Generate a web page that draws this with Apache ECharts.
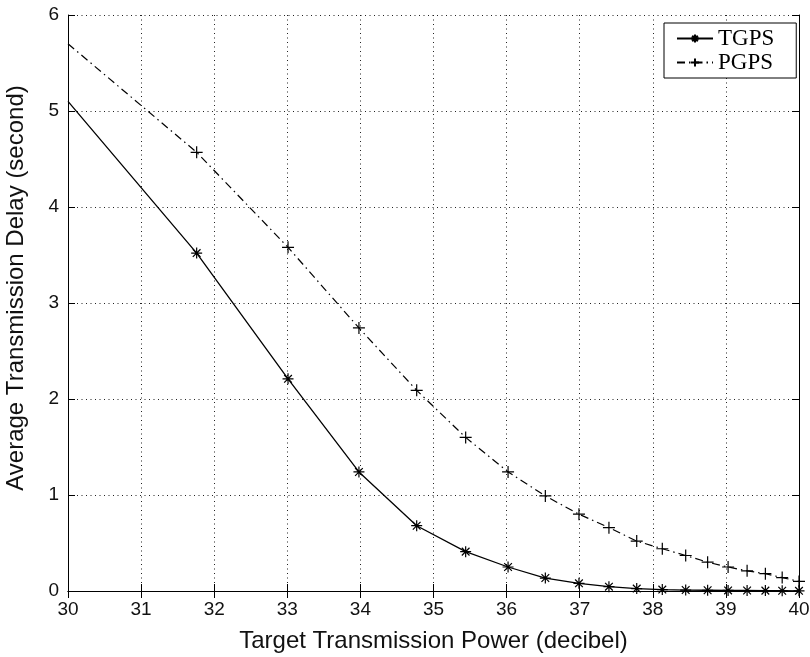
<!DOCTYPE html>
<html>
<head>
<meta charset="utf-8">
<script src="https://cdn.jsdelivr.net/npm/echarts@6/dist/echarts.min.js"></script>
<style>
  html, body { margin: 0; padding: 0; background: #fff; }
  #chart { width: 810px; height: 657px; }
</style>
</head>
<body>
<div id="chart"></div>
<script>
// target transmission power (decibel)
var powerDb = [30, 31.76, 33.01, 33.98, 34.77, 35.44, 36.02, 36.53, 36.99, 37.40,
  37.78, 38.13, 38.45, 38.75, 39.03, 39.29, 39.54, 39.77, 40];
// average transmission delay (second)
var tgpsDelay = [5.10, 3.52, 2.21, 1.24, 0.68, 0.41, 0.25, 0.135, 0.08, 0.045,
  0.025, 0.015, 0.01, 0.008, 0.006, 0.005, 0.004, 0.003, 0.002];
var pgpsDelay = [5.70, 4.57, 3.58, 2.74, 2.09, 1.60, 1.24, 0.99, 0.80, 0.66,
  0.52, 0.44, 0.37, 0.30, 0.25, 0.21, 0.18, 0.14, 0.10];
var seriesNames = ["TGPS", "PGPS"];

var starPath = "path://M0,5L10,5M5,0L5,10M1.5,1.5L8.5,8.5M8.5,1.5L1.5,8.5";
var plusPath = "path://M0,5L10,5M5,0L5,10";

function toData(ys) {
  return ys.map(function (y, i) {
    var item = { value: [powerDb[i], y] };
    if (i === 0) item.symbol = "none"; // no marker on the first point
    return item;
  });
}

var gridLine = { show: true, lineStyle: { color: "#222", type: [1, 3.5], width: 1 } };
var tickIn = { inside: true, length: 7, lineStyle: { color: "#000" } };

var option = {
  animation: false,
  grid: { left: 68, right: 11, top: 15, bottom: 66, outerBoundsMode: "none", containLabel: false },
  legend: {
    orient: "vertical",
    left: 664,
    top: 23,
    padding: [4, 22, 4, 12],
    itemGap: 1,
    itemWidth: 36,
    itemHeight: 10,
    backgroundColor: "#fff",
    borderColor: "#000",
    borderWidth: 1,
    borderRadius: 0,
    textStyle: { fontFamily: "Liberation Serif", fontSize: 23, color: "#000" },
    data: seriesNames
  },
  xAxis: [{
    type: "value",
    min: 30, max: 40, interval: 1,
    name: "Target Transmission Power (decibel)",
    nameLocation: "middle",
    nameGap: 38,
    nameTextStyle: { fontFamily: "Liberation Sans", fontSize: 24, color: "#111" },
    axisLine: { lineStyle: { color: "#000", width: 1 } },
    axisTick: tickIn,
    axisLabel: { fontFamily: "Liberation Sans", fontSize: 19, color: "#111", margin: 9 },
    splitLine: gridLine
  }, {
    type: "value", position: "top",
    min: 30, max: 40, interval: 1,
    axisLine: { show: true, lineStyle: { color: "#000", width: 1 } },
    axisTick: tickIn,
    axisLabel: { show: false },
    splitLine: { show: false }
  }],
  yAxis: [{
    type: "value",
    min: 0, max: 6, interval: 1,
    name: "Average Transmission Delay (second)",
    nameLocation: "middle",
    nameGap: 40,
    nameTextStyle: { fontFamily: "Liberation Sans", fontSize: 24, color: "#111", padding: [0, 0, 0, 30] },
    axisLine: { show: true, lineStyle: { color: "#000", width: 1 } },
    axisTick: tickIn,
    axisLabel: { fontFamily: "Liberation Sans", fontSize: 19, color: "#111", margin: 9 },
    splitLine: gridLine
  }, {
    type: "value", position: "right",
    min: 0, max: 6, interval: 1,
    axisLine: { show: true, lineStyle: { color: "#000", width: 1 } },
    axisTick: tickIn,
    axisLabel: { show: false },
    splitLine: { show: false }
  }],
  series: [{
    name: seriesNames[0],
    type: "line",
    clip: false,
    symbol: starPath,
    symbolSize: 11,
    showAllSymbol: true,
    itemStyle: { color: "#000", borderColor: "#000", borderWidth: 1.2 },
    lineStyle: { color: "#000", width: 1.3, type: "solid" },
    emphasis: { disabled: true },
    data: toData(tgpsDelay)
  }, {
    name: seriesNames[1],
    type: "line",
    clip: false,
    symbol: plusPath,
    symbolSize: 12,
    showAllSymbol: true,
    itemStyle: { color: "#000", borderColor: "#000", borderWidth: 1.2 },
    lineStyle: { color: "#000", width: 1.2, type: [8, 4, 1.5, 4] },
    emphasis: { disabled: true },
    data: toData(pgpsDelay)
  }]
};

var myChart = echarts.init(document.getElementById("chart"));
myChart.setOption(option);
</script>
</body>
</html>
